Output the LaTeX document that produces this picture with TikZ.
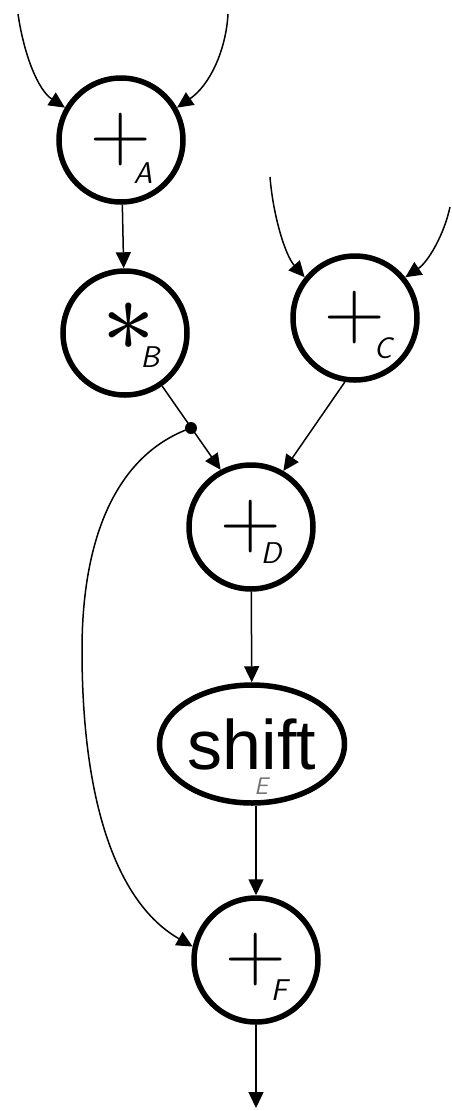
\documentclass[tikz,border=0pt]{standalone}
\usepackage{fontspec}
\newfontfamily\shiftfont{Liberation Sans}
\newfontfamily\lmmathfont{Latin Modern Math}
\usetikzlibrary{arrows.meta,shapes.geometric}
\begin{document}
\begin{tikzpicture}[x=1pt,y=-1pt]
\tikzset{
  op/.style={circle, draw, line width=5.5pt, minimum size=124pt, inner sep=0pt,
             font=\fontsize{84}{84}\selectfont},
  subl/.style={font=\fontsize{30}{30}\selectfont\sffamily\itshape, inner sep=0pt},
  conn/.style={line width=1.5pt, -{Triangle[length=16pt,width=15pt]}},
}
\useasboundingbox (0,0) rectangle (451,1111);
% operator nodes
\node[op] (A) at (121,140) {+};
\node[op] (B) at (125,333) {};
\node[op] (C) at (355,318) {+};
\node[op] (D) at (251,527) {+};
\node[ellipse, draw, line width=5.5pt, minimum width=185pt, minimum height=118pt,
      inner sep=0pt, font=\shiftfont\fontsize{70}{70}\selectfont] (S) at (252,744) {shift};
\node[op] (F) at (256,960) {+};
% operator glyph and subscripts
\node[inner sep=0pt, font=\lmmathfont\fontsize{105}{105}\selectfont] (ast) at (129,327) {∗};
\node[subl] (la) at (143,173) {A};
\node[subl] (lb) at (150,357) {B};
\node[subl] (lc) at (383,348) {C};
\node[subl] (ld) at (271,553) {D};
\node[subl, text=black!55, font=\fontsize{24}{24}\selectfont\sffamily\itshape] (le) at (261,786) {E};
\node[subl] (lf) at (279,990) {F};
% free ends
\coordinate (a1) at (18,14);
\coordinate (a2) at (228,14);
\coordinate (c1) at (270,177);
\coordinate (c2) at (450,207);
\coordinate (o) at (256,1108);
% inputs
\draw[conn] (a1) .. controls (24,55) and (38,90) .. (A.150);
\draw[conn] (a2) .. controls (226,50) and (210,85) .. (A.30);
\draw[conn] (c1) .. controls (273,215) and (285,255) .. (C.141);
\draw[conn] (c2) .. controls (444,235) and (428,262) .. (C.39);
% internal edges
\draw[conn] (A) -- (B);
\draw[conn] (B.-55) -- (D.118);
\draw[conn] (C.-99) -- (D.60);
\draw[conn] (D) -- (S);
\draw[conn] (S.south -| F.north) -- (F.north);
\draw[conn] (F) -- (o);
% fan-out from B to F
\coordinate (j) at (191,428);
\fill (j) circle (6pt);
\draw[conn] (j) .. controls (115,455) and (82,540) .. (82,650)
            .. controls (82,810) and (120,905) .. (F.168);
\end{tikzpicture}
\end{document}
